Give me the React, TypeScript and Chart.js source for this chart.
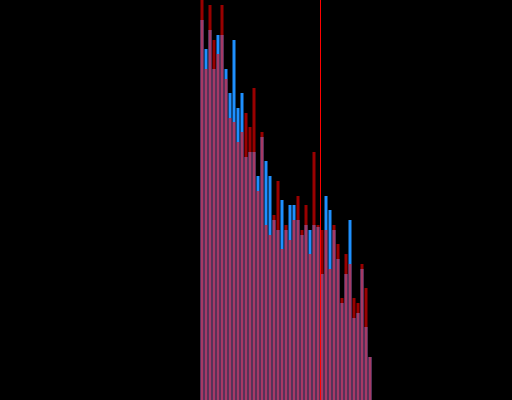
import React, { useEffect, useRef } from "react";
import { Chart, registerables } from "chart.js";

Chart.register(...registerables);

// bin centers (x), counts for two series, and a marker value
const FIRST_BIN = 50.5;
const blueCounts = [
  380, 351, 370, 331, 365, 365, 331, 307, 360, 292,
  307, 243, 248, 248, 224, 263, 239, 224, 180, 170,
  200, 170, 195, 195, 180, 165, 175, 170, 175, 173,
  126, 204, 190, 170, 141, 97, 126, 180, 82, 87,
  131, 73, 43,
];
const redCounts = [
  420, 331, 395, 360, 346, 395, 321, 282, 278, 258,
  268, 287, 273, 312, 209, 268, 175, 165, 185, 219,
  151, 175, 160, 180, 204, 170, 195, 146, 248, 175,
  170, 170, 131, 175, 156, 102, 146, 136, 102, 97,
  136, 112, 43,
];
const binCenters = blueCounts.map((_, i) => FIRST_BIN + i);
const markerValue = 80.1;
const X_MIN = 0;
const X_MAX = 128;
const Y_MAX = 400;

const markerPlugin = {
  id: "markerLine",
  afterDatasetsDraw(chart: any) {
    const { ctx, chartArea, scales } = chart;
    const x = Math.round(scales.x.getPixelForValue(markerValue)) + 0.5;
    ctx.save();
    ctx.strokeStyle = "rgb(255,0,0)";
    ctx.lineWidth = 1;
    ctx.beginPath();
    ctx.moveTo(x, chartArea.top);
    ctx.lineTo(x, chartArea.bottom);
    ctx.stroke();
    ctx.restore();
  },
};

export default function App() {
  const ref = useRef<HTMLCanvasElement | null>(null);
  useEffect(() => {
    if (!ref.current) return;
    const chart = new Chart(ref.current, {
      type: "bar",
      data: {
        datasets: [
          {
            label: "B",
            data: binCenters.map((x, i) => ({ x, y: redCounts[i] })),
            backgroundColor: "rgba(255,0,0,0.6)",
            borderWidth: 0,
          },
          {
            label: "A",
            data: binCenters.map((x, i) => ({ x, y: blueCounts[i] })),
            backgroundColor: "rgb(30,144,255)",
            borderWidth: 0,
          },
        ],
      },
      options: {
        animation: false,
        responsive: true,
        maintainAspectRatio: false,
        grouped: false,
        categoryPercentage: 1,
        barPercentage: 0.75,
        layout: { padding: 0 },
        plugins: { legend: { display: false }, tooltip: { enabled: false } },
        scales: {
          x: { type: "linear", min: X_MIN, max: X_MAX, offset: false, display: false },
          y: { min: 0, max: Y_MAX, display: false },
        },
      } as any,
      plugins: [markerPlugin],
    });
    return () => chart.destroy();
  }, []);
  return (
    <div style={{ position: "fixed", left: 0, top: 0, width: 512, height: 400, background: "#000" }}>
      <canvas ref={ref} />
    </div>
  );
}
